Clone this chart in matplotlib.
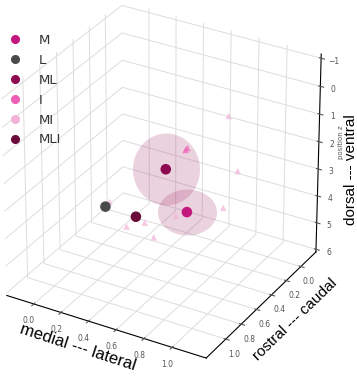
import numpy as np
import matplotlib.pyplot as plt
from matplotlib.lines import Line2D
from matplotlib.path import Path

# group colours
groups = ["M", "L", "ML", "I", "MI", "MLI"]
colors = ["#c2187e", "#4a4a4a", "#8c0a50", "#ec5fb5", "#f3b3d9", "#6a0a3a"]

# group means (x = medial-lateral, y = rostral-caudal, z = depth)
mean_groups = ["M", "ML", "L", "MLI"]
mean_x = [0.57, 0.50, 0.085, 0.31]
mean_y = [0.30, 0.45, 0.50, 0.50]
mean_z = [4.30, 2.45, 4.31, 4.35]

# spread of the two larger groups, drawn as a shaded blob (width, height)
spread_groups = ["ML", "M"]
spread_w = [67, 59]
spread_h = [72, 46]

# single sites
site_x = [0.81, 0.586, 0.60, 0.853, 0.833, 0.63, 0.433, 0.358, 0.613, 0.086]
site_y = [0.20, 0.35, 0.35, 0.15, 0.30, 0.55, 0.60, 0.70, 0.80, 0.45]
site_z = [0.69, 1.87, 1.78, 2.75, 3.75, 3.71, 4.13, 4.13, 3.88, 4.26]
site_group = ["MI", "I", "I", "MI", "MI", "MI", "MI", "MI", "MI", "MI"]

col = dict(zip(groups, colors))

fig = plt.figure(figsize=(3.57, 3.87), dpi=100)
ax = fig.add_axes([-0.158, 0.033, 1.2, 1.0], projection="3d",
                  computed_zorder=False)

t = np.linspace(0, 2 * np.pi, 80)
for g, w, h in zip(spread_groups, spread_w, spread_h):
    i = mean_groups.index(g)
    blob = Path(np.column_stack([w * np.cos(t), h * np.sin(t)]))
    ax.scatter([mean_x[i]], [mean_y[i]], [mean_z[i]], marker=blob,
               s=(max(w, h) * 72 / fig.dpi) ** 2, color="#a8336f", alpha=0.22,
               linewidths=0, depthshade=False, zorder=1)

ax.scatter(site_x, site_y, site_z, marker="^", s=22,
           c=[col[g] for g in site_group], alpha=0.7, linewidths=0,
           depthshade=False, zorder=2)
ax.scatter(mean_x, mean_y, mean_z, marker="o", s=58,
           c=[col[g] for g in mean_groups], alpha=1, linewidths=0,
           depthshade=False, zorder=3)

ax.set_xlim(-0.2, 1.24)
ax.set_ylim(1.25, -0.21)
ax.set_zlim(6.1, -1.15)
ax.view_init(elev=30, azim=-60)
ax.set_proj_type("persp", focal_length=1.6)
ax.set_box_aspect((4, 4, 4))

ax.set_xticks([0, 0.2, 0.4, 0.6, 0.8, 1.0])
ax.set_yticks([0, 0.2, 0.4, 0.6, 0.8, 1.0])
ax.set_zticks(range(-1, 7))
ax.tick_params(labelsize=5.5, colors="#555555", pad=-2)
for a in (ax.xaxis, ax.yaxis, ax.zaxis):
    a.set_pane_color((1, 1, 1, 0))
    a._axinfo["grid"]["color"] = "#dddddd"
    a._axinfo["grid"]["linewidth"] = 0.7

lab = dict(family="Liberation Sans", ha="center", va="center")
fig.text(0.217, 0.102, "medial --- lateral", fontsize=12, rotation=-18, **lab)
fig.text(0.826, 0.173, "rostral --- caudal", fontsize=11, rotation=44, **lab)
fig.text(0.982, 0.561, "dorsal --- ventral", fontsize=11, rotation=90, **lab)
fig.text(0.955, 0.633, "position z", fontsize=5, rotation=90, color="#555555",
         ha="center", va="center")

handles = [Line2D([], [], marker="o", ls="", color=c, markersize=5.5) for c in colors]
fig.legend(handles, groups, loc="upper left", bbox_to_anchor=(-0.01, 0.927),
           frameon=False, fontsize=9.5, labelcolor="#333333",
           handletextpad=0.78, labelspacing=0.53, borderaxespad=0)

fig.savefig("out.png", dpi=100)
